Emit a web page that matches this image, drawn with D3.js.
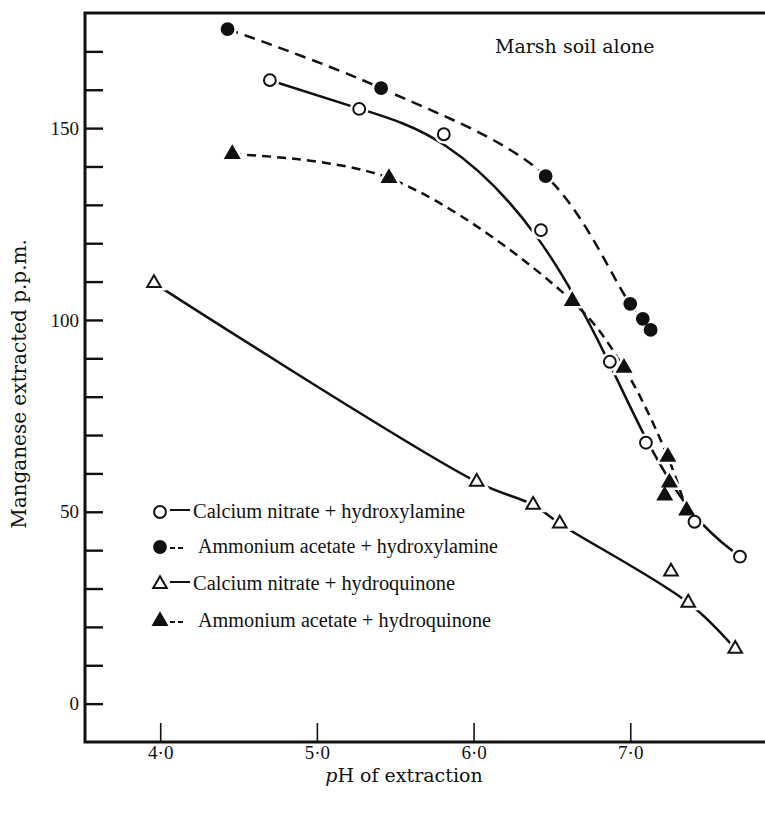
<!DOCTYPE html>
<html lang="en">
<head>
    <meta charset="UTF-8">
    <title>Manganese extracted vs pH</title>
    <script src="https://d3js.org/d3.v7.min.js"></script>
    <style>
        body { margin: 0; background: #fff; }
        svg text { fill: #111; }
    </style>
</head>
<body>
    <div id="chart"></div>

    <script>
        // Data: [pH, Mn p.p.m.]
        const caNitrateHydroxylamine = [
            [4.70, 162.5], [5.27, 155.0], [5.81, 148.4], [6.43, 123.4],
            [6.87, 89.1], [7.10, 68.0], [7.41, 47.4], [7.70, 38.3]
        ];
        const amAcetateHydroxylamine = [
            [4.43, 175.8], [5.41, 160.4], [6.46, 137.5],
            [7.00, 104.2], [7.08, 100.3], [7.13, 97.4]
        ];
        const caNitrateHydroquinone = [
            [3.96, 109.6], [6.02, 57.8], [6.38, 51.8], [6.55, 46.9],
            [7.26, 34.4], [7.37, 26.3], [7.67, 14.3]
        ];
        const amAcetateHydroquinone = [
            [4.46, 143.2], [5.46, 137.0], [6.63, 104.9], [6.96, 87.5],
            [7.24, 64.3], [7.25, 57.6], [7.22, 54.2], [7.36, 50.3]
        ];
        // points that sit on the drawn curve (others are off-curve readings)
        const curveIdx = {
            caHxl: [0, 1, 2, 3, 4, 5, 6, 7],
            amHxl: [0, 1, 2, 3, 4, 5],
            caHq: [0, 1, 2, 3, 5, 6],
            amHq: [0, 1, 2, 3, 4, 7]
        };

        const legendLabels = [
            "Calcium nitrate + hydroxylamine",
            "Ammonium acetate + hydroxylamine",
            "Calcium nitrate + hydroquinone",
            "Ammonium acetate + hydroquinone"
        ];
        const xTicks = [4, 5, 6, 7];
        const yTicks = d3.range(0, 171, 10);
        const yLabelled = [0, 50, 100, 150];

        const width = 765, height = 814;
        const svg = d3.select("#chart").append("svg")
            .attr("width", width)
            .attr("height", height);

        const x = d3.scaleLinear().domain([3.52, 7.86]).range([85, 765]);
        const y = d3.scaleLinear().domain([-10, 180]).range([742, 13]);

        // axes
        svg.append("g")
            .attr("transform", "translate(" + x(3.52) + ",0)")
            .call(d3.axisLeft(y).tickValues(yTicks).tickSize(-18).tickPadding(6)
                .tickFormat(d => yLabelled.includes(d) ? d : ""))
            .call(g => g.select(".domain").remove())
            .call(g => g.selectAll("line").attr("stroke", "#111").attr("stroke-width", 2.4))
            .call(g => g.selectAll("text").style("font-family", "Liberation Serif, serif").style("font-size", "19px"));

        svg.append("g")
            .attr("transform", "translate(0," + y(-10) + ")")
            .call(d3.axisBottom(x).tickValues(xTicks).tickSize(-19).tickPadding(4)
                .tickFormat(d => d3.format(".1f")(d).replace(".", "\u00b7")))
            .call(g => g.select(".domain").remove())
            .call(g => g.selectAll("line").attr("stroke", "#111").attr("stroke-width", 1.6))
            .call(g => g.selectAll("text").style("font-family", "Liberation Serif, serif").style("font-size", "19px"));

        // frame: left, bottom, top
        const frame = d3.path();
        frame.moveTo(x(7.86), y(180));
        frame.lineTo(x(3.52), y(180));
        frame.lineTo(x(3.52), y(-10));
        frame.lineTo(x(7.86), y(-10));
        svg.append("path")
            .attr("d", frame.toString())
            .attr("fill", "none")
            .attr("stroke", "#111")
            .attr("stroke-width", 3);

        // axis titles
        svg.append("text")
            .attr("x", 404).attr("y", 782)
            .attr("text-anchor", "middle")
            .style("font-family", "DejaVu Serif, serif")
            .style("font-size", "19px")
            .html('<tspan font-style="italic">p</tspan>H of extraction');

        svg.append("text")
            .attr("transform", "translate(26,384) rotate(-90)")
            .attr("text-anchor", "middle")
            .style("font-family", "DejaVu Serif, serif")
            .style("font-size", "20px")
            .text("Manganese extracted p.p.m.");

        svg.append("text")
            .attr("x", 495).attr("y", 53)
            .style("font-family", "DejaVu Serif, serif")
            .style("font-size", "19px")
            .text("Marsh soil alone");

        // series
        const series = [
            { data: caNitrateHydroxylamine, idx: curveIdx.caHxl, shape: d3.symbolCircle, filled: false, dash: null, curve: d3.curveBasis },
            { data: amAcetateHydroxylamine, idx: curveIdx.amHxl, shape: d3.symbolCircle, filled: true, dash: "11,7", curve: d3.curveCatmullRom.alpha(0.5) },
            { data: caNitrateHydroquinone, idx: curveIdx.caHq, shape: d3.symbolTriangle, filled: false, dash: null, curve: d3.curveCatmullRom.alpha(0.5) },
            { data: amAcetateHydroquinone, idx: curveIdx.amHq, shape: d3.symbolTriangle, filled: true, dash: "9,6", curve: d3.curveCatmullRom.alpha(0.5) }
        ];

        const symbolSize = s => s === d3.symbolCircle ? 110 : 80;

        series.forEach(s => {
            const line = d3.line()
                .x(d => x(d[0]))
                .y(d => y(d[1]))
                .curve(s.curve);
            svg.append("path")
                .datum(s.idx.map(i => s.data[i]))
                .attr("d", line)
                .attr("fill", "none")
                .attr("stroke", "#111")
                .attr("stroke-width", 2.5)
                .attr("stroke-dasharray", s.dash);
        });

        // white halos so the lines stop short of the markers
        series.forEach(s => {
            svg.append("g").selectAll("path")
                .data(s.data)
                .join("path")
                .attr("transform", d => "translate(" + x(d[0]) + "," + y(d[1]) + ")")
                .attr("d", d3.symbol().type(s.shape).size(symbolSize(s.shape)))
                .attr("fill", "#fff")
                .attr("stroke", "#fff")
                .attr("stroke-width", 7);
        });

        series.forEach(s => {
            svg.append("g").selectAll("path")
                .data(s.data)
                .join("path")
                .attr("transform", d => "translate(" + x(d[0]) + "," + y(d[1]) + ")")
                .attr("d", d3.symbol().type(s.shape).size(symbolSize(s.shape)))
                .attr("fill", s.filled ? "#111" : "#fff")
                .attr("stroke", "#111")
                .attr("stroke-width", 2);
        });

        // legend
        const legendY = [512, 547, 584, 621];
        const legendTextX = [193, 198, 193, 198];
        const legendTextLen = [272, 300, 262, 293];
        series.forEach((s, i) => {
            const g = svg.append("g").attr("transform", "translate(0," + legendY[i] + ")");
            g.append("path")
                .attr("transform", "translate(160,0)")
                .attr("d", d3.symbol().type(s.shape).size(symbolSize(s.shape)))
                .attr("fill", s.filled ? "#111" : "#fff")
                .attr("stroke", "#111")
                .attr("stroke-width", 2);
            g.append("line")
                .attr("x1", 170).attr("x2", s.dash ? 186 : 190)
                .attr("y1", s.dash ? 1 : -2).attr("y2", s.dash ? 1 : -2)
                .attr("stroke", "#111")
                .attr("stroke-width", 2)
                .attr("stroke-dasharray", s.dash ? "5,3" : null);
            g.append("text")
                .attr("x", legendTextX[i]).attr("y", 6)
                .attr("textLength", legendTextLen[i])
                .attr("lengthAdjust", "spacingAndGlyphs")
                .style("font-family", "Liberation Serif, serif")
                .style("font-size", "20px")
                .text(legendLabels[i]);
        });
    </script>
</body>
</html>
